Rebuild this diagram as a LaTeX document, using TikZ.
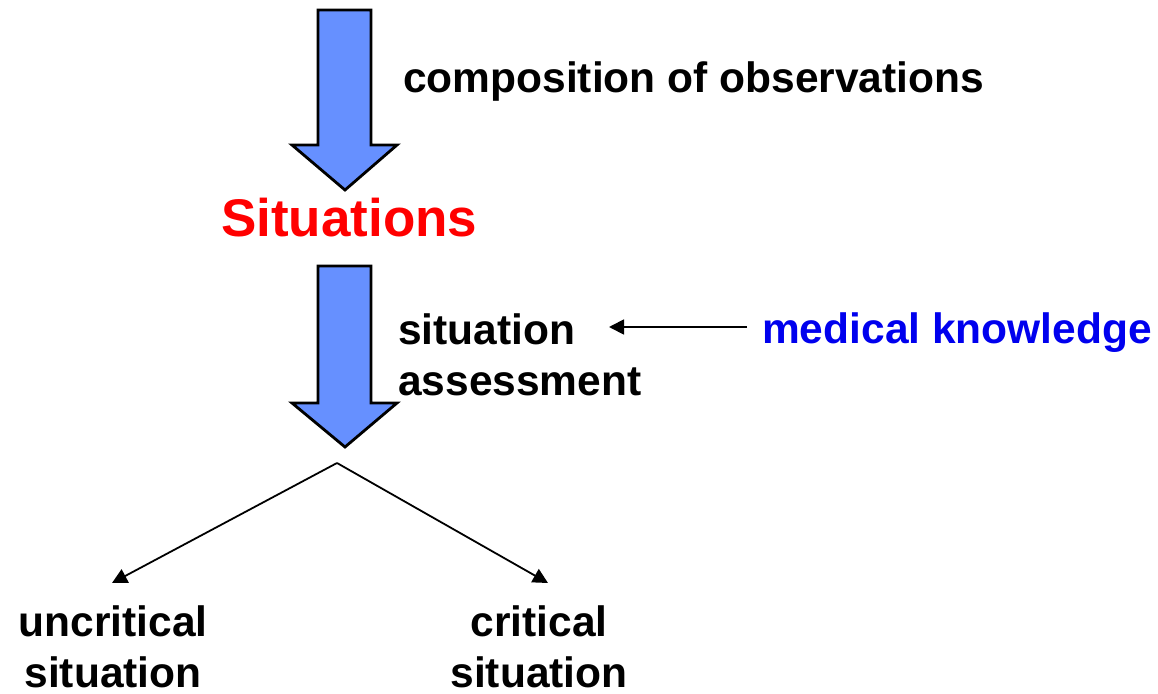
\documentclass[tikz,border=0pt]{standalone}
\usepackage{fontspec}
\setmainfont{Liberation Sans}
\usetikzlibrary{arrows.meta}
\definecolor{arrowblue}{HTML}{6690FF}
\definecolor{knowblue}{HTML}{0000EE}
\definecolor{sitred}{HTML}{FF0000}
\begin{document}
\begin{tikzpicture}[x=1pt,y=-1pt,
  bigarrow/.style={draw=black,line width=2.8pt,fill=arrowblue,line join=miter},
  label/.style={inner sep=0pt,font=\fontsize{42.5}{51}\selectfont\bfseries,align=left},
  thin/.style={draw=black,line width=1.8pt,-{Triangle[length=15pt,width=15pt]}}]
\useasboundingbox (0,0) rectangle (1158,693);

% block arrows
\path[bigarrow] (318,10) -- (371,10) -- (371,145) -- (397,145) -- (345,190)
  -- (292,145) -- (318,145) -- cycle;
\path[bigarrow] (318,266) -- (371,266) -- (371,403) -- (397,403) -- (345,447)
  -- (292,403) -- (318,403) -- cycle;

% labels (multi-line nodes sit on the baseline of their last line)
\node[label,anchor=base west] (comp) at (403,92) {composition of observations};
\node[label,anchor=base west,text=sitred,font=\fontsize{53}{64}\selectfont\bfseries]
  (sit) at (221,236) {Situations};
\node[label,anchor=base west] (assess) at (398,395) {situation\\assessment};
\node[label,anchor=base west,text=knowblue] (know) at (762,343) {medical knowledge};
\node[label,align=center,anchor=base] (uncrit) at (113,687) {uncritical\\situation};
\node[label,align=center,anchor=base] (crit) at (539,687) {critical\\situation};

% connectors
\coordinate (knowtail) at (747,327);
\coordinate (knowtip) at (609,327);
\coordinate (fork) at (337,463);
\coordinate (lefttip) at (112,583);
\coordinate (righttip) at (548,583);
\draw[thin] (knowtail) -- (knowtip);
\draw[thin] (fork) -- (lefttip);
\draw[thin] (fork) -- (righttip);
\end{tikzpicture}
\end{document}
